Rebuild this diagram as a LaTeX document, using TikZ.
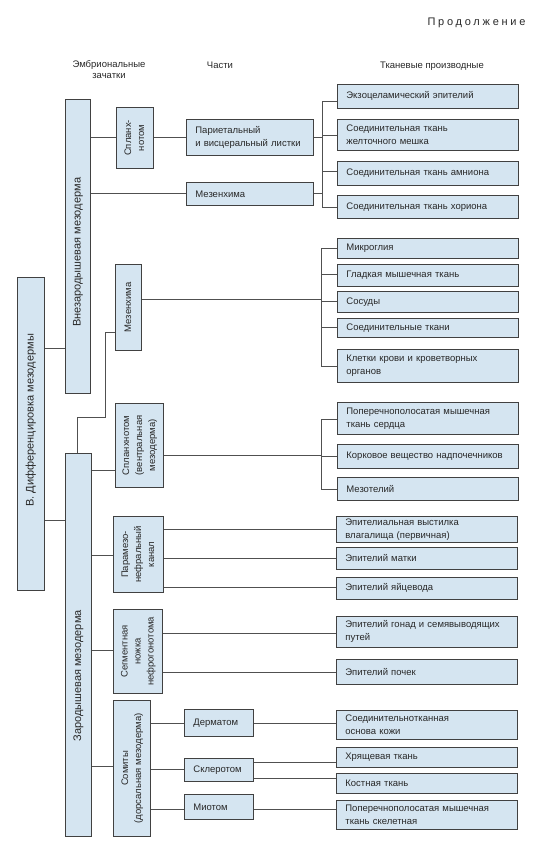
\documentclass[tikz,border=0pt]{standalone}
\usepackage{fontspec}
\setmainfont{Liberation Sans}
\usepackage{graphicx}
\usepackage{tikz}
\definecolor{boxfill}{RGB}{213,229,241}
\definecolor{boxline}{RGB}{65,65,65}
\definecolor{linkgray}{RGB}{80,80,80}
\definecolor{txt}{RGB}{40,40,40}
\newcommand{\boxfont}{\fontsize{9.5}{13}\selectfont}
\newcommand{\bigfont}{\fontsize{11}{13}\selectfont}
\newcommand{\vtext}[1]{\rotatebox{90}{\begin{tabular}{@{}c@{}}#1\end{tabular}}}

\begin{document}
\begin{tikzpicture}[x=1pt,y=-1pt]

	\tikzstyle{every node}=[font=\boxfont, text=txt]
	\tikzstyle{box}=[draw=boxline, line width=0.8pt, fill=boxfill, anchor=north west, inner sep=0pt]
	\tikzstyle{tis}=[box, text width=163pt, inner xsep=9pt, inner ysep=2pt, align=left]
	\tikzstyle{part}=[box, inner xsep=9pt, inner ysep=2pt, align=left]
	\tikzstyle{link}=[draw=linkgray, line width=0.7pt]

	\useasboundingbox (0,0) rectangle (534,852);

	% headings
	\node[anchor=east, font=\fontsize{11}{13}\selectfont\addfontfeatures{LetterSpace=25}] (cont) at (529,23) {Продолжение};
	\node[align=center, font=\fontsize{9.5}{11}\selectfont] (hEmb) at (109,70) {Эмбриональные\\зачатки};
	\node (hPart) at (220,65) {Части};
	\node (hTis) at (432,66) {Тканевые производные};

	% left column
	\node[box, minimum width=27, minimum height=313, font=\bigfont] (diff) at (17,277) {\vtext{\hspace*{27pt}В. Дифференцировка мезодермы}};
	\node[box, minimum width=25, minimum height=294, font=\bigfont] (vnez) at (65,99) {\vtext{Внезародышевая мезодерма\hspace*{12pt}}};
	\node[box, minimum width=26, minimum height=383, font=\bigfont] (zar) at (65,453) {\vtext{Зародышевая мезодерма\hspace*{62pt}}};

	% embryonic rudiments
	\node[box, minimum width=37, minimum height=61] (spl1) at (116,107) {\vtext{Спланх-\\нотом}};
	\node[box, minimum width=26, minimum height=86] (mes2) at (115,264) {\vtext{Мезенхима}};
	\node[box, minimum width=48, minimum height=84] (spl2) at (115,403) {\vtext{Спланхнотом\\(вентральная\\мезодерма)}};
	\node[box, minimum width=50, minimum height=76] (pmn) at (113,516) {\vtext{Парамезо-\\нефральный\\канал}};
	\node[box, minimum width=49, minimum height=84] (seg) at (113,609) {\vtext{Сегментная\\ножка\\нефрогонотома}};
	\node[box, minimum width=37, minimum height=136] (som) at (113,700) {\vtext{Сомиты\\(дорсальная мезодерма)}};

	% parts
	\node[part, text width=109pt, minimum height=36] (par) at (186,119) {Париетальный\\и висцеральный листки};
	\node[part, text width=109pt, minimum height=23] (mes1) at (186,182) {Мезенхима};
	\node[part, text width=51pt, minimum height=27] (derm) at (184,709) {Дерматом};
	\node[part, text width=51pt, minimum height=23] (scler) at (184,758) {Склеротом};
	\node[part, text width=51pt, minimum height=25] (myo) at (184,794) {Миотом};

	% tissue derivatives
	\node[tis, minimum height=24] (exo) at (337,84) {Экзоцеламический эпителий};
	\node[tis, minimum height=31] (yolk) at (337,119) {Соединительная ткань\\желточного мешка};
	\node[tis, minimum height=24] (amn) at (337,161) {Соединительная ткань амниона};
	\node[tis, minimum height=23] (chor) at (337,195) {Соединительная ткань хориона};

	\node[tis, minimum height=20] (mic) at (337,238) {Микроглия};
	\node[tis, minimum height=22] (smooth) at (337,264) {Гладкая мышечная ткань};
	\node[tis, minimum height=21] (vess) at (337,291) {Сосуды};
	\node[tis, minimum height=19] (conn) at (337,318) {Соединительные ткани};
	\node[tis, minimum height=33] (blood) at (337,349) {Клетки крови и кроветворных\\органов};

	\node[tis, minimum height=32] (heart) at (337,402) {Поперечнополосатая мышечная\\ткань сердца};
	\node[tis, minimum height=24] (cortex) at (337,444) {Корковое вещество надпочечников};
	\node[tis, minimum height=23] (mesot) at (337,477) {Мезотелий};

	\node[tis, minimum height=24] (vag) at (336,516) {Эпителиальная выстилка\\влагалища (первичная)};
	\node[tis, minimum height=22] (uter) at (336,547) {Эпителий матки};
	\node[tis, minimum height=22] (ovid) at (336,577) {Эпителий яйцевода};

	\node[tis, minimum height=31] (gon) at (336,616) {Эпителий гонад и семявыводящих\\путей};
	\node[tis, minimum height=25] (kid) at (336,659) {Эпителий почек};

	\node[tis, minimum height=29] (skin) at (336,710) {Соединительнотканная\\основа кожи};
	\node[tis, minimum height=20] (cart) at (336,747) {Хрящевая ткань};
	\node[tis, minimum height=20] (bone) at (336,773) {Костная ткань};
	\node[tis, minimum height=29] (skel) at (336,800) {Поперечнополосатая мышечная\\ткань скелетная};

	% bus lines
	\coordinate (busA) at (322,0);
	\coordinate (busB) at (321,0);
	\coordinate (kink) at (105,417);

	% extra-embryonic mesoderm
	\draw[link] (vnez.east |- 0,137) -- (spl1.west |- 0,137);
	\draw[link] (spl1.east |- 0,137) -- (par.west |- 0,137);
	\draw[link] (par.east |- 0,137) -- (busA |- 0,137);
	\draw[link] (vnez.east |- 0,193) -- (mes1.west |- 0,193);
	\draw[link] (mes1.east |- 0,193) -- (busA |- 0,193);
	\draw[link] (busA |- 0,101) -- (busA |- 0,207);
	\draw[link] (busA |- 0,101) -- (exo.west |- 0,101);
	\draw[link] (busA |- 0,135) -- (yolk.west |- 0,135);
	\draw[link] (busA |- 0,171) -- (amn.west |- 0,171);
	\draw[link] (busA |- 0,207) -- (chor.west |- 0,207);

	% differentiation
	\draw[link] (diff.east |- 0,348) -- (vnez.west |- 0,348);
	\draw[link] (diff.east |- 0,520) -- (zar.west |- 0,520);

	% mesenchyme
	\draw[link] (mes2.west |- 0,332) -| (kink) -| (zar.north -| 77,0);
	\draw[link] (mes2.east |- 0,299) -- (busB |- 0,299);
	\draw[link] (busB |- 0,248) -- (busB |- 0,366);
	\draw[link] (busB |- 0,248) -- (mic.west |- 0,248);
	\draw[link] (busB |- 0,274) -- (smooth.west |- 0,274);
	\draw[link] (busB |- 0,301) -- (vess.west |- 0,301);
	\draw[link] (busB |- 0,327) -- (conn.west |- 0,327);
	\draw[link] (busB |- 0,366) -- (blood.west |- 0,366);

	% splanchnotome
	\draw[link] (zar.east |- 0,470) -- (spl2.west |- 0,470);
	\draw[link] (spl2.east |- 0,455) -- (busB |- 0,455);
	\draw[link] (busB |- 0,419) -- (busB |- 0,489);
	\draw[link] (busB |- 0,419) -- (heart.west |- 0,419);
	\draw[link] (busB |- 0,456) -- (cortex.west |- 0,456);
	\draw[link] (busB |- 0,489) -- (mesot.west |- 0,489);

	% paramesonephric duct
	\draw[link] (zar.east |- 0,555) -- (pmn.west |- 0,555);
	\draw[link] (pmn.east |- 0,529) -- (vag.west |- 0,529);
	\draw[link] (pmn.east |- 0,558) -- (uter.west |- 0,558);
	\draw[link] (pmn.east |- 0,587) -- (ovid.west |- 0,587);

	% nephrogonotome
	\draw[link] (zar.east |- 0,650) -- (seg.west |- 0,650);
	\draw[link] (seg.east |- 0,633) -- (gon.west |- 0,633);
	\draw[link] (seg.east |- 0,672) -- (kid.west |- 0,672);

	% somites
	\draw[link] (zar.east |- 0,766) -- (som.west |- 0,766);
	\draw[link] (som.east |- 0,723) -- (derm.west |- 0,723);
	\draw[link] (som.east |- 0,769) -- (scler.west |- 0,769);
	\draw[link] (som.east |- 0,809) -- (myo.west |- 0,809);
	\draw[link] (derm.east |- 0,723) -- (skin.west |- 0,723);
	\draw[link] (scler.east |- 0,762) -- (cart.west |- 0,762);
	\draw[link] (scler.east |- 0,778) -- (bone.west |- 0,778);
	\draw[link] (myo.east |- 0,809) -- (skel.west |- 0,809);

\end{tikzpicture}
\end{document}
